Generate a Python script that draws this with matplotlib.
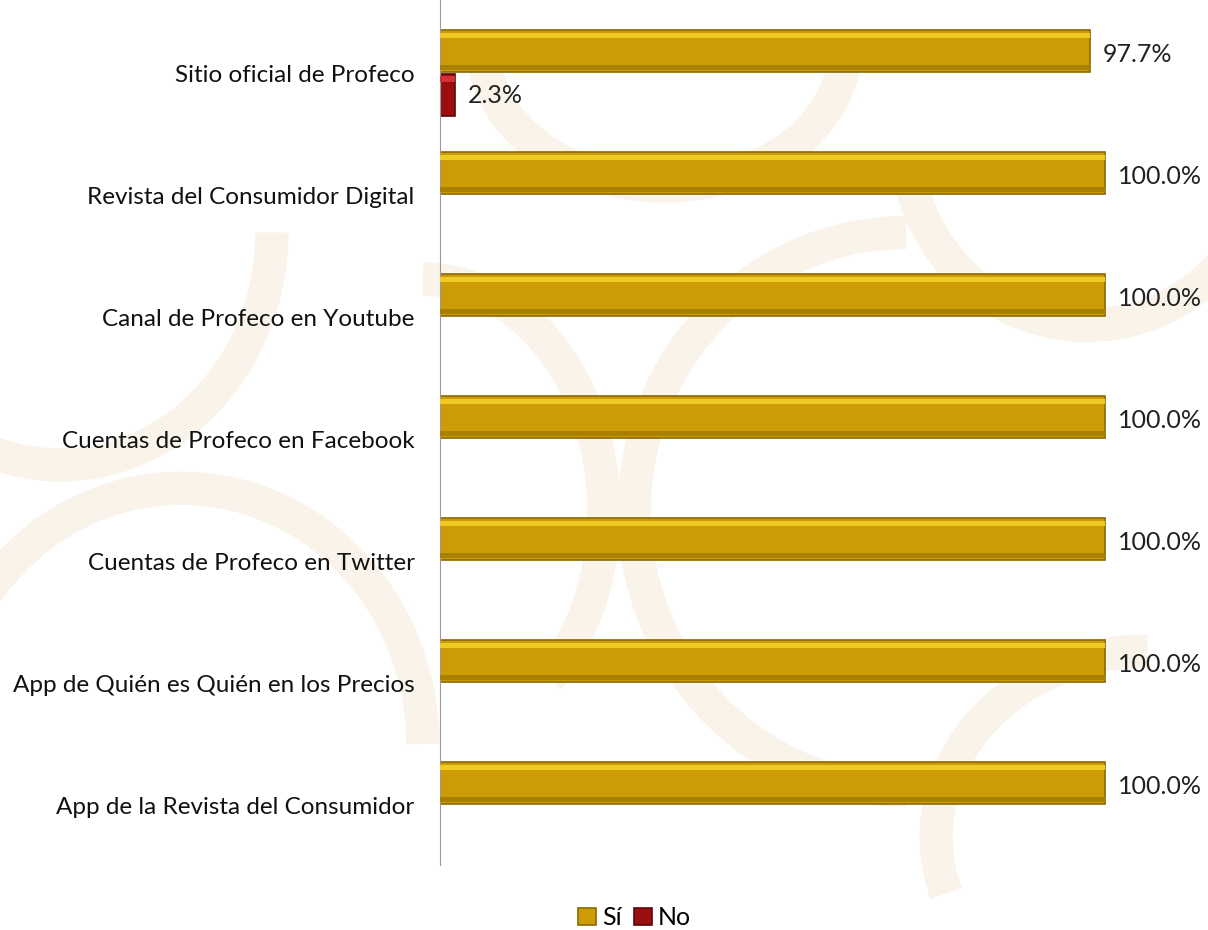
import matplotlib.pyplot as plt
from matplotlib.patches import Arc
import numpy as np

# datos
categorias = ['Sitio oficial de Profeco', 'Revista del Consumidor Digital', 'Canal de Profeco en Youtube',
              'Cuentas de Profeco en Facebook', 'Cuentas de Profeco en Twitter',
              'App de Quién es Quién en los Precios', 'App de la Revista del Consumidor']
si = [97.7, 100.0, 100.0, 100.0, 100.0, 100.0, 100.0]
no = [2.3, 0, 0, 0, 0, 0, 0]

plt.rcParams['font.family'] = ['Lato', 'DejaVu Sans']

fig = plt.figure(figsize=(12.08, 9.3), dpi=100)
fig.patch.set_facecolor('white')

# marca de agua de fondo (arcos tenues)
for (cx, cy, w, hh, t1, t2) in [(0.05, 0.75, 0.35, 0.5, 200, 360), (0.15, 0.2, 0.4, 0.55, 0, 160),
                                 (0.55, 0.95, 0.3, 0.3, 180, 360), (0.75, 0.45, 0.45, 0.6, 90, 270),
                                 (0.35, 0.45, 0.3, 0.5, 300, 90), (0.95, 0.1, 0.35, 0.4, 90, 200),
                                 (0.9, 0.85, 0.3, 0.4, 200, 330)]:
    fig.patches.append(Arc((cx, cy), w, hh, theta1=t1, theta2=t2, transform=fig.transFigure,
                           color='#FAF3EA', lw=24, zorder=-5))

ax = fig.add_axes([0.364, 0.07, 0.636, 0.93])
ax.set_facecolor('none')
ax.set_zorder(2)

y = np.arange(len(categorias))
h = 0.34
off = 0.18

ax.barh(y - off, si, height=h, color='#CC9B06', edgecolor='#8a6a00', linewidth=1.2, label='Sí', zorder=2)
ax.barh(y + off, no, height=h, color='#9A0E10', edgecolor='#5a0707', linewidth=1.2, label='No', zorder=2)
# brillo superior y sombra inferior
ax.barh(y - off - h * 0.38, si, height=h * 0.14, color='#EFC924', linewidth=0, zorder=3)
ax.barh(y - off + h * 0.40, si, height=h * 0.12, color='#A98000', linewidth=0, zorder=3)
ax.barh(y + off - h * 0.38, no, height=h * 0.14, color='#D3303A', linewidth=0, zorder=3)

for i in range(len(categorias)):
    ax.text(si[i] + 2, y[i] - off + 0.03, f'{si[i]:.1f}%', va='center', ha='left', fontsize=18, color='#222222')
    if no[i] > 0:
        ax.text(no[i] + 2, y[i] + off, f'{no[i]:.1f}%', va='center', ha='left', fontsize=18, color='#222222')

ax.set_xlim(0, 115.5)
ax.set_ylim(6.49, -0.6)
ax.set_yticks(y)
ax.set_yticklabels(categorias, fontsize=17.5, color='#111111')
ax.tick_params(axis='y', length=0, pad=18)
ax.set_xticks([])
for s in ['top', 'right', 'bottom']:
    ax.spines[s].set_visible(False)
ax.spines['left'].set_color('#999999')

ax.legend(loc='center', bbox_to_anchor=(0.254, -0.061), ncol=2, frameon=False, fontsize=18,
          handlelength=0.7, handleheight=0.7, handletextpad=0.25, columnspacing=0.5)

plt.savefig('out.png', dpi=100, facecolor=fig.get_facecolor())
